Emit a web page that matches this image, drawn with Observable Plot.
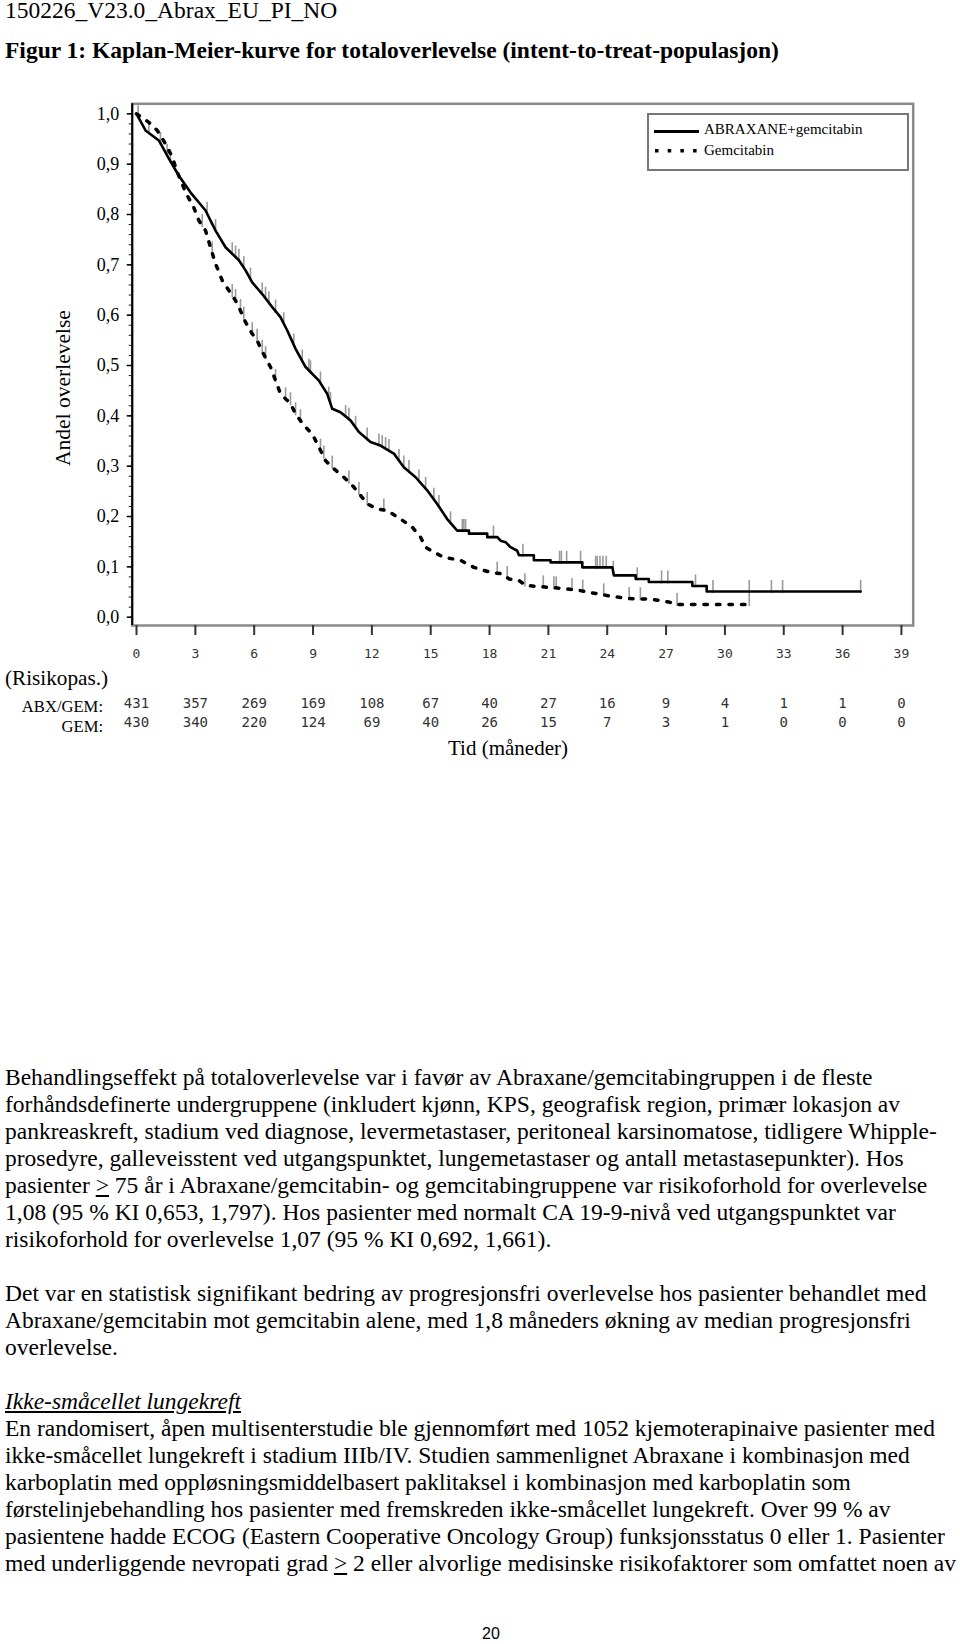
<!DOCTYPE html>
<html>
<head>
<meta charset="utf-8">
<script src="https://cdn.jsdelivr.net/npm/d3@7"></script>
<script src="https://cdn.jsdelivr.net/npm/@observablehq/plot@0.6"></script>
<style>
html, body { margin: 0; padding: 0; background: #fff; }
body { width: 960px; height: 1644px; position: relative; overflow: hidden;
       font-family: "Liberation Serif", "Times New Roman", serif; color: #000; }
.abs { position: absolute; white-space: nowrap; }
#chart { position: absolute; left: 0; top: 90px; }
.txt { font-size: 23.5px; line-height: 27px; }
</style>
</head>
<body>
<div class="abs txt" style="left:5px; top:-3px;">150226_V23.0_Abrax_EU_PI_NO</div>
<div class="abs txt" style="left:5px; top:36.8px; font-weight:bold;">Figur 1: Kaplan-Meier-kurve for totaloverlevelse (intent-to-treat-populasjon)</div>

<div id="chart"></div>

<div class="abs" style="left:63.75px; top:388px; font-size:21.5px; line-height:1; transform:translate(-50%,-50%) rotate(-90deg);">Andel overlevelse</div>

<div class="abs" style="left:647.3px; top:113.3px; width:258px; height:54px; border:2px solid #777; background:#fff;">
  <svg width="258" height="54" style="position:absolute; left:0; top:0;">
    <line x1="5" x2="50" y1="16.4" y2="16.4" stroke="#000" stroke-width="3"/>
    <line x1="6" x2="50" y1="35.7" y2="35.7" stroke="#000" stroke-width="3.5" stroke-dasharray="3.5,9.2"/>
  </svg>
</div>
<div class="abs" style="left:704px; top:122.4px; font-size:15px; line-height:1;">ABRAXANE+gemcitabin</div>
<div class="abs" style="left:704px; top:143.4px; font-size:15px; line-height:1;">Gemcitabin</div>

<div class="abs" style="left:5px; top:668.2px; font-size:21.2px; line-height:1;">(Risikopas.)</div>
<div class="abs" style="right:857px; top:699.4px; font-size:16.6px; line-height:1; text-align:right;">ABX/GEM:</div>
<div class="abs" style="right:857px; top:719.4px; font-size:16.6px; line-height:1; text-align:right;">GEM:</div>
<div class="abs" style="left:448px; top:738.4px; font-size:21px; line-height:1;">Tid (måneder)</div>

<div class="abs txt" style="left:5px; top:1063.5px;">
Behandlingseffekt på totaloverlevelse var i favør av Abraxane/gemcitabingruppen i de fleste<br>
forhåndsdefinerte undergruppene (inkludert kjønn, KPS, geografisk region, primær lokasjon av<br>
pankreaskreft, stadium ved diagnose, levermetastaser, peritoneal karsinomatose, tidligere Whipple-<br>
prosedyre, galleveisstent ved utgangspunktet, lungemetastaser og antall metastasepunkter). Hos<br>
pasienter <u>&gt;</u> 75 år i Abraxane/gemcitabin- og gemcitabingruppene var risikoforhold for overlevelse<br>
1,08 (95 % KI 0,653, 1,797). Hos pasienter med normalt CA 19-9-nivå ved utgangspunktet var<br>
risikoforhold for overlevelse 1,07 (95 % KI 0,692, 1,661).<br>
<br>
Det var en statistisk signifikant bedring av progresjonsfri overlevelse hos pasienter behandlet med<br>
Abraxane/gemcitabin mot gemcitabin alene, med 1,8 måneders økning av median progresjonsfri<br>
overlevelse.<br>
<br>
<i><u>Ikke-småcellet lungekreft</u></i><br>
En randomisert, åpen multisenterstudie ble gjennomført med 1052 kjemoterapinaive pasienter med<br>
ikke-småcellet lungekreft i stadium IIIb/IV. Studien sammenlignet Abraxane i kombinasjon med<br>
karboplatin med oppløsningsmiddelbasert paklitaksel i kombinasjon med karboplatin som<br>
førstelinjebehandling hos pasienter med fremskreden ikke-småcellet lungekreft. Over 99 % av<br>
pasientene hadde ECOG (Eastern Cooperative Oncology Group) funksjonsstatus 0 eller 1. Pasienter<br>
med underliggende nevropati grad <u>&gt;</u> 2 eller alvorlige medisinske risikofaktorer som omfattet noen av
</div>

<div class="abs" style="left:482px; top:1626px; font-family:'Liberation Sans',Arial,sans-serif; font-size:16px; line-height:16px;">20</div>

<script>
// ---- data ----
const xTicks = [0, 3, 6, 9, 12, 15, 18, 21, 24, 27, 30, 33, 36, 39];
const abxRisk = [431, 357, 269, 169, 108, 67, 40, 27, 16, 9, 4, 1, 1, 0];
const gemRisk = [430, 340, 220, 124, 69, 40, 26, 15, 7, 3, 1, 0, 0, 0];
const yTicks = [0, 0.1, 0.2, 0.3, 0.4, 0.5, 0.6, 0.7, 0.8, 0.9, 1.0];

// ABRAXANE+gemcitabin (solid) curve vertices: months, survival
const abxTime = [0, 0.46, 1.14, 1.65, 2.16, 2.75, 3.52, 4.03, 4.54, 5.22, 5.56, 5.9, 6.41, 6.92, 7.34, 7.68, 8.11, 8.62, 9.3, 9.72, 9.98, 10.4, 10.91, 11.34, 11.93, 12.44, 13.12, 13.63, 14.23, 14.82, 15.33, 15.84, 16.35, 16.95, 16.95, 17.88, 17.88, 18.4, 18.56, 18.82, 19.07, 19.41, 19.5, 20.26, 20.26, 21.11, 21.11, 22.73, 22.73, 24.26, 24.34, 25.45, 25.45, 26.12, 26.12, 28.34, 28.34, 29.07, 29.07, 36.92];
const abxSurv = [1.0, 0.967, 0.947, 0.911, 0.877, 0.844, 0.808, 0.768, 0.735, 0.709, 0.689, 0.665, 0.642, 0.616, 0.596, 0.570, 0.533, 0.497, 0.470, 0.444, 0.414, 0.407, 0.391, 0.368, 0.348, 0.341, 0.325, 0.298, 0.278, 0.252, 0.225, 0.195, 0.172, 0.172, 0.166, 0.166, 0.159, 0.159, 0.152, 0.149, 0.139, 0.132, 0.123, 0.123, 0.113, 0.113, 0.109, 0.109, 0.099, 0.099, 0.083, 0.083, 0.076, 0.076, 0.070, 0.070, 0.062, 0.062, 0.051, 0.051];

// Gemcitabin (dotted) curve vertices
const gemTime = [0, 0.63, 1.06, 1.48, 1.82, 2.08, 2.33, 2.5, 2.92, 3.18, 3.52, 3.77, 4.03, 4.37, 4.71, 5.05, 5.3, 5.56, 5.9, 6.15, 6.41, 6.83, 7.09, 7.34, 7.85, 8.11, 8.53, 8.96, 9.3, 9.64, 10.06, 10.57, 11.0, 11.42, 11.77, 12.27, 12.78, 13.46, 14.06, 14.48, 14.74, 15.16, 15.67, 16.52, 17.2, 18.05, 18.65, 18.99, 19.5, 19.84, 21.45, 22.47, 22.98, 24.0, 25.02, 26.21, 27.15, 27.57, 31.14];
const gemSurv = [1.0, 0.983, 0.967, 0.940, 0.914, 0.884, 0.861, 0.844, 0.814, 0.788, 0.768, 0.735, 0.702, 0.669, 0.649, 0.629, 0.609, 0.586, 0.563, 0.550, 0.528, 0.497, 0.470, 0.444, 0.424, 0.404, 0.381, 0.364, 0.338, 0.311, 0.295, 0.278, 0.262, 0.242, 0.225, 0.215, 0.212, 0.195, 0.179, 0.159, 0.139, 0.129, 0.119, 0.113, 0.099, 0.089, 0.086, 0.076, 0.073, 0.063, 0.058, 0.054, 0.050, 0.043, 0.037, 0.036, 0.030, 0.025, 0.025];

// censoring times (months)
const abxCensor = [0.08, 0.63, 1.22, 1.56, 1.73, 3.6, 4.03, 4.88, 5.05, 5.22, 5.47, 5.81, 6.41, 6.58, 6.75, 7.09, 7.51, 8.02, 8.45, 8.79, 8.87, 9.38, 9.8, 9.89, 10.66, 10.83, 11.17, 11.76, 12.36, 12.53, 12.7, 12.87, 13.38, 13.63, 13.89, 14.4, 14.74, 15.16, 15.42, 16.01, 16.61, 16.69, 16.78, 18.2, 19.7, 21.57, 21.66, 21.93, 22.64, 23.41, 23.49, 23.63, 23.78, 23.95, 24.31, 25.53, 26.77, 27.09, 28.5, 29.39, 31.24, 32.37, 32.94, 36.92];
const gemCensor = [3.35, 3.86, 4.88, 5.05, 5.3, 5.47, 5.9, 6.15, 6.41, 6.58, 7.09, 7.6, 7.85, 8.11, 8.36, 9.38, 9.55, 9.98, 10.83, 11.34, 11.76, 12.61, 18.39, 18.9, 19.8, 20.74, 21.28, 21.4, 22.2, 22.75, 23.82, 25.12, 25.69, 27.56, 31.24];

// ---- build tables ----
const abx = abxTime.map((t, i) => ({t, s: abxSurv[i]}));
const gem = gemTime.map((t, i) => ({t, s: gemSurv[i]}));
const risk = xTicks.map((t, i) => ({t, abx: abxRisk[i], gem: gemRisk[i]}));

function survAt(curve, t) {
  for (let i = 0; i < curve.length - 1; i++) {
    const a = curve[i], b = curve[i + 1];
    if (b.t > a.t && t >= a.t && t <= b.t) return a.s + (b.s - a.s) * (t - a.t) / (b.t - a.t);
  }
  return curve[curve.length - 1].s;
}

const X_DOMAIN = [-0.22, 39.6];
const Y_DOMAIN = [-0.0165, 1.0199];
const mono = "'DejaVu Sans Mono', monospace";
const serif = "'Liberation Serif', 'Times New Roman', serif";

const chart = Plot.plot({
  width: 960,
  height: 680,
  marginTop: 13.3,
  marginBottom: 145,
  marginLeft: 131.7,
  marginRight: 47.3,
  x: {domain: X_DOMAIN, label: null},
  y: {domain: Y_DOMAIN, label: null},
  style: {background: "transparent", fontFamily: serif, overflow: "visible"},
  marks: [
    Plot.frame({stroke: "#8a8a8a", strokeWidth: 2.5}),
    Plot.ruleX([X_DOMAIN[0]], {stroke: "#000", strokeWidth: 2}),
    Plot.axisY({ticks: d3.range(0, 1.0001, 0.02), tickSize: 3, tickFormat: () => "", stroke: "#222", strokeWidth: 1, label: null}),
    Plot.axisY({ticks: yTicks, tickSize: 5, tickPadding: 8, strokeWidth: 1.5,
      tickFormat: d => d.toFixed(1).replace(".", ","), fontSize: 18, fontFamily: serif, fill: "#000", label: null}),
    Plot.axisX({ticks: xTicks, tickSize: 10, tickPadding: 13, stroke: "#333", strokeWidth: 2,
      tickFormat: d => String(d), fontSize: 13, fontFamily: mono, fill: "#333", label: null}),
    Plot.ruleX(abxCensor, {x: d => d, y1: d => survAt(abx, d) - 0.004, y2: d => survAt(abx, d) + 0.022, stroke: "#9a9a9a", strokeWidth: 1.6}),
    Plot.ruleX(gemCensor, {x: d => d, y1: d => survAt(gem, d) - 0.004, y2: d => survAt(gem, d) + 0.022, stroke: "#9a9a9a", strokeWidth: 1.6}),
    Plot.line(gem, {x: "t", y: "s", stroke: "#000", strokeWidth: 3.5, strokeDasharray: "3.5,9"}),
    Plot.line(abx, {x: "t", y: "s", stroke: "#000", strokeWidth: 2.6}),
    Plot.text(risk, {x: "t", text: d => String(d.abx), frameAnchor: "bottom", dy: 82, fontSize: 14, fontFamily: mono, fill: "#333"}),
    Plot.text(risk, {x: "t", text: d => String(d.gem), frameAnchor: "bottom", dy: 101, fontSize: 14, fontFamily: mono, fill: "#333"})
  ]
});
document.getElementById("chart").appendChild(chart);
</script>
</body>
</html>
